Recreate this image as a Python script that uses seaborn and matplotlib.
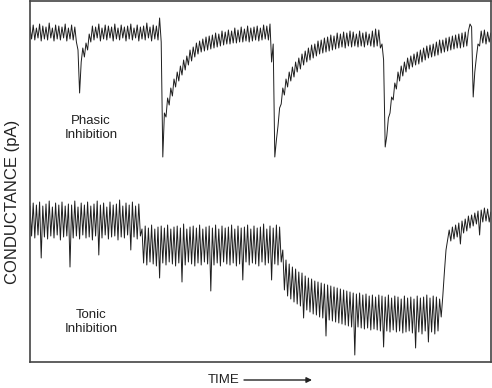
import numpy as np
import pandas as pd
import seaborn as sns
import matplotlib.pyplot as plt

# sample spacing (time units per sample)
dt = 1.6

# phasic inhibition trace (conductance, arbitrary units)
phasic = [
    335, 323, 337, 322, 334, 324, 338, 321, 336, 323,
    335, 322, 339, 324, 334, 321, 337, 323, 336, 322,
    335, 324, 338, 321, 334, 323, 337, 322, 335, 320,
    312, 269, 300, 314, 305, 319, 312, 328, 320,
    336, 322, 335, 324, 338, 321, 334, 323, 337, 322,
    336, 324, 335, 321, 338, 323, 334, 322, 337, 324,
    335, 321, 336, 323, 338, 322, 334, 324, 337, 321,
    335, 323, 336, 322, 339, 324, 335, 321, 337, 323,
    336, 322,
    344, 320, 205,
    249, 245, 264, 257, 274, 266, 283, 275, 290, 281,
    296, 287, 302, 292, 306, 297, 312, 301, 315, 305,
    319, 308, 321, 310, 323, 311, 325, 312, 326, 313,
    327, 314, 329, 315, 328, 316, 331, 317, 330, 318,
    332, 318, 331, 319, 334, 319, 332, 320, 335, 320,
    333, 321, 336, 320, 334, 321, 335, 322, 336, 321,
    334, 322, 337, 323, 336, 322,
    338, 300, 318, 205,
    222, 236, 254, 258, 274, 267, 283, 275, 290, 281,
    295, 285, 300, 290, 304, 293, 308, 297, 311, 300,
    314, 302, 317, 304, 318, 306, 321, 308, 322, 309,
    324, 310, 325, 311, 327, 312, 326, 313, 329, 314,
    328, 315, 330, 314, 329, 316, 331, 315, 330, 316,
    328, 315, 331, 316, 329, 315, 330, 317, 328, 316,
    331, 315, 333, 316, 332, 314,
    318, 302, 215,
    226, 244, 249, 265, 262, 279, 273, 290, 281, 296,
    286, 300, 290, 304, 293, 306, 295, 308, 297, 310,
    298, 312, 300, 314, 302, 316, 304, 317, 305, 318,
    306, 320, 307, 322, 309, 322, 310, 324, 311, 325,
    312, 326, 313, 327, 314, 328, 314, 329, 315, 330,
    316, 331,
    338, 335, 265, 290, 305, 318, 316, 331, 319, 332,
    318, 330, 320, 329,
]

# tonic inhibition trace
tonic = [
    156, 126, 159, 124, 157, 127, 160, 104, 156, 125,
    158, 123, 161, 126, 155, 124, 159, 127, 157, 122,
    160, 125, 156, 126, 158, 95, 157, 124, 161, 126,
    155, 123, 159, 127, 157, 124, 160, 125, 156, 122,
    158, 126, 161, 107, 157, 124, 159, 127, 155, 123,
    160, 125, 157, 126, 158, 122, 162, 125, 156, 124,
    159, 127, 157, 112, 160, 125, 156, 123, 158, 126,
    133, 99, 136, 97, 134, 100, 137, 98, 133, 96,
    135, 84, 136, 99, 134, 97, 137, 100, 133, 98,
    135, 96, 136, 99, 134, 80, 138, 97, 133, 100,
    135, 98, 136, 96, 134, 99, 137, 97, 133, 100,
    135, 98, 136, 71, 134, 97, 137, 99, 133, 96,
    136, 100, 134, 98, 135, 97, 137, 99, 133, 96,
    136, 98, 134, 82, 135, 100, 137, 97, 133, 99,
    136, 98, 134, 96, 135, 100, 138, 97, 133, 99,
    136, 82, 134, 98, 137, 97, 135, 100,
    112, 72, 102, 66, 98, 63, 95, 60, 93, 58,
    90, 56, 89, 44, 86, 52, 84, 50, 83, 48,
    81, 47, 80, 45, 79, 44, 78, 26, 77, 42,
    76, 41, 75, 40, 74, 39, 73, 38, 72, 37,
    71, 36, 70, 35, 69, 7, 68, 35, 69, 34,
    67, 33, 68, 34, 66, 32, 67, 33, 65, 32,
    67, 31, 66, 15, 65, 31, 67, 30, 64, 32,
    66, 30, 65, 31, 63, 29, 66, 30, 64, 31,
    65, 29, 63, 14, 66, 30, 64, 28, 65, 31,
    67, 20, 64, 30, 66, 28, 65, 31, 63,
    45, 66, 90, 112, 122,
    132, 121, 135, 123, 137, 125, 139, 118, 141, 129,
    143, 131, 146, 134, 147, 136, 149, 138, 151, 127,
    152, 140, 154, 141, 153, 140, 150,
]

df = pd.DataFrame({
    "time": np.arange(len(phasic)) * dt,
    "phasic": phasic,
    "tonic": tonic,
})

sns.set_style("white")
plt.rcParams["font.family"] = ["Liberation Sans", "DejaVu Sans"]

fig = plt.figure(figsize=(4.92, 3.88), dpi=100)
ax = fig.add_axes([30 / 492, 26 / 388, 461 / 492, 361 / 388])

line_kw = dict(color="#1e1e1e", linewidth=0.7, estimator=None)
sns.lineplot(data=df, x="time", y="phasic", ax=ax, **line_kw)
sns.lineplot(data=df, x="time", y="tonic", ax=ax, **line_kw)

ax.set_xlim(0, 461)
ax.set_ylim(0, 361)
ax.set_xticks([])
ax.set_yticks([])
ax.set_xlabel("")
ax.set_ylabel("")
for sp in ax.spines.values():
    sp.set_color("#444444")
    sp.set_linewidth(1.2)

ax.text(61, 234, "Phasic\nInhibition", ha="center", va="center",
        fontsize=9.5, linespacing=1.25, color="#222222")
ax.text(61, 40, "Tonic\nInhibition", ha="center", va="center",
        fontsize=9.5, linespacing=1.25, color="#222222")

fig.text(13 / 492, 1 - 202 / 388, "CONDUCTANCE (pA)", rotation=90,
         ha="center", va="center", fontsize=12, color="#222222")
fig.text(224 / 492, 8 / 388, "TIME", ha="center", va="center",
         fontsize=9.5, color="#222222")
ax.annotate("", xy=(312, 8), xytext=(244, 8),
            xycoords="figure pixels", textcoords="figure pixels",
            arrowprops=dict(arrowstyle="-|>", color="#222222", lw=1.0,
                            mutation_scale=8, shrinkA=0, shrinkB=0))

fig.savefig("out.png", dpi=100)
